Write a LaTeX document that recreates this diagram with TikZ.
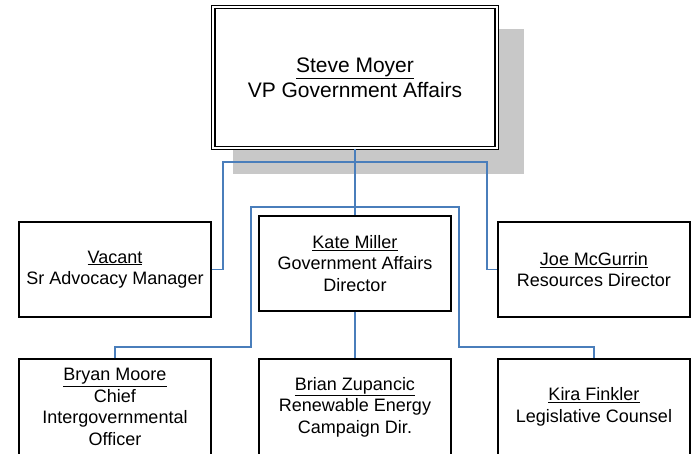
\documentclass[tikz,border=0pt]{standalone}
\usepackage{fontspec}
\setmainfont{Liberation Sans}
\definecolor{connblue}{HTML}{4A7EBB}
\definecolor{shadowgray}{HTML}{C8C8C8}
\tikzset{
  box/.style={draw=black, line width=1.3pt, fill=white, minimum width=192pt, minimum height=95pt,
    inner sep=0pt, align=center, font=\fontsize{18}{21.5}\selectfont},
  topbox/.style={draw=black, double=white, double distance=2.4pt, line width=1.2pt, fill=white,
    minimum width=283.5pt, minimum height=141pt, inner sep=0pt, align=center,
    font=\fontsize{21}{25}\selectfont},
  conn/.style={draw=connblue, line width=1.5pt}
}
\begin{document}
\begin{tikzpicture}[x=1pt, y=-1pt]
\useasboundingbox (0,0) rectangle (691,454);
\clip (0,0) rectangle (691,454);
% shadow of top box
\fill[shadowgray] (233,29) rectangle (524,174);
% connector coordinates
\coordinate (busL) at (223,162);
\coordinate (busR) at (487,162);
\coordinate (kL) at (251,207);
\coordinate (kR) at (459,207);
\coordinate (kLb) at (251,347);
\coordinate (kRb) at (459,347);
% nodes
\node[topbox] (vp) at (355,77.5) {\underline{Steve Moyer}\\VP Government Affairs};
\node[box] (vacant) at (115,269.5) {\underline{Vacant}\\Sr Advocacy Manager};
\node[box] (kate) at (355,263.5) {\underline{Kate Miller}\\Government Affairs\\Director};
\node[box] (joe) at (594,269.5) {\underline{Joe McGurrin}\\Resources Director};
\node[box, minimum height=96pt] (bryan) at (115,407) {\underline{Bryan Moore}\\Chief\\Intergovernmental\\Officer};
\node[box, minimum height=96pt] (brian) at (355,407) {\underline{Brian Zupancic}\\Renewable Energy\\Campaign Dir.};
\node[box, minimum height=96pt] (kira) at (594,407) {\underline{Kira Finkler}\\Legislative Counsel};
% connectors
\draw[conn] (vp.south) -- (kate.north);
\draw[conn] (vacant.east) -| (busL) -- (busR) |- (joe.west);
\draw[conn] (bryan.north) |- (kLb) -- (kL) -- (kR) -- (kRb) -| (kira.north);
\draw[conn] (kate.south) -- (brian.north);
\end{tikzpicture}
\end{document}
